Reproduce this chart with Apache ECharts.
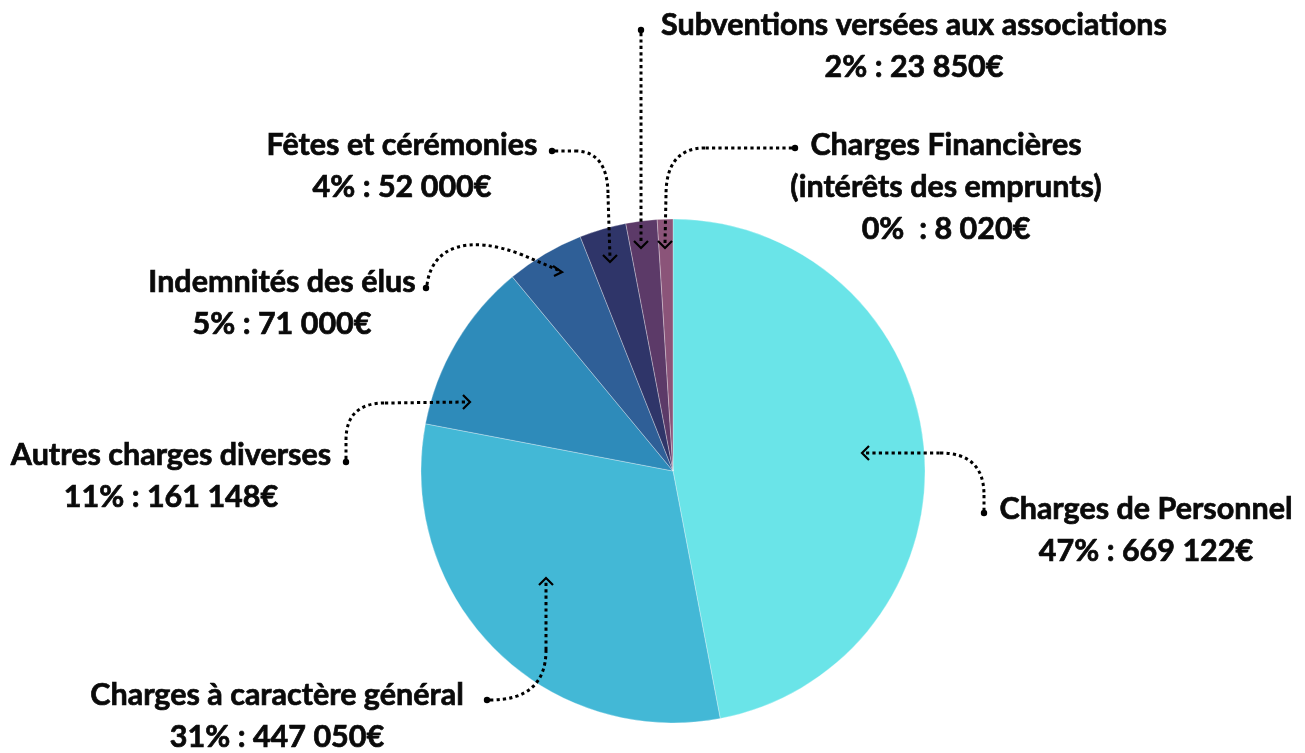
<!DOCTYPE html>
<html>
<head>
<meta charset="utf-8">
<script src="https://cdn.jsdelivr.net/npm/echarts@6/dist/echarts.min.js"></script>
<style>
html,body{margin:0;padding:0;background:#fff;}
#chart{width:1305px;height:753px;}
</style>
</head>
<body>
<div id="chart"></div>
<script>
// ---- data ----
var categories = [
  "Charges de Personnel",
  "Charges à caractère général",
  "Autres charges diverses",
  "Indemnités des élus",
  "Fêtes et cérémonies",
  "Subventions versées aux associations",
  "Charges Financières\n(intérêts des emprunts)"
];
// amounts shown in the labels (€)
var amounts = [669122, 447050, 161148, 71000, 52000, 23850, 8020];
// percentage text shown in the labels
var percentLabels = ["47%", "31%", "11%", "5%", "4%", "2%", "0% "];
// slice sizes as drawn in the picture (measured slice angles → % shares)
var sliceShares = [47, 31, 11, 5, 3, 2, 1];
var colors = ["#6ae4e8", "#43b8d6", "#2e8bba", "#2f5f97", "#2f3569", "#5c3a68", "#8b5479"];

// ---- layout (label anchor positions, px) ----
var labelPos = [
  [1146, 530], [277, 716], [171, 476], [282, 303], [402, 166], [914, 46], [946, 187]
];

// decorative dotted connectors: segments, dot end, arrow tip + direction
var connectors = [
  {seg: [["L", 866, 453, 940, 453], ["Q", 940, 453, 984, 453, 984, 495], ["L", 984, 495, 984, 510]], dot: [984, 513], tip: [862, 453], dir: "left"},
  {seg: [["Q", 490, 700, 546, 700, 546, 650], ["L", 546, 650, 546, 582]], dot: [487, 700], tip: [546, 578], dir: "up"},
  {seg: [["L", 346, 459, 346, 440], ["Q", 346, 440, 346, 403, 385, 403], ["L", 385, 403, 466, 402]], dot: [346, 462], tip: [470, 402], dir: "right"},
  {seg: [["C", 427, 285, 432, 245, 470, 235, 520, 254], ["L", 520, 254, 558, 270]], dot: [426, 288], tip: [562, 272], dir: "rightdown"},
  {seg: [["L", 555, 151, 575, 151], ["Q", 575, 151, 608, 151, 608, 195], ["L", 608, 195, 610, 258]], dot: [552, 151], tip: [610, 262], dir: "down"},
  {seg: [["L", 641, 33, 641, 244]], dot: [641, 30], tip: [641, 248], dir: "down"},
  {seg: [["L", 792, 148, 705, 148], ["Q", 705, 148, 666, 148, 666, 195], ["L", 666, 195, 665, 244]], dot: [795, 148], tip: [665, 248], dir: "down"}
];

function fmt(n) {
  return String(n).replace(/\B(?=(\d{3})+(?!\d))/g, " ");
}

var seriesData = categories.map(function (c, i) {
  return {name: c, value: sliceShares[i], itemStyle: {color: colors[i]}};
});

function arrowPoints(tip, dir) {
  var x = tip[0], y = tip[1], s = 7;
  if (dir === "left") return [[x + s, y - s], [x, y], [x + s, y + s]];
  if (dir === "right") return [[x - s, y - s], [x, y], [x - s, y + s]];
  if (dir === "up") return [[x - s, y + s], [x, y], [x + s, y + s]];
  if (dir === "down") return [[x - s, y - s], [x, y], [x + s, y - s]];
  return [[x - 9, y - 6], [x, y], [x - 8, y + 4]];
}

var dotted = {fill: null, stroke: "#000", lineWidth: 3, lineDash: [3.2, 3.2]};
var graphics = [];
connectors.forEach(function (c) {
  c.seg.forEach(function (s) {
    if (s[0] === "L") {
      graphics.push({type: "line", silent: true, z: 100,
        shape: {x1: s[1], y1: s[2], x2: s[3], y2: s[4]}, style: dotted});
    } else if (s[0] === "Q") {
      graphics.push({type: "bezierCurve", silent: true, z: 100,
        shape: {x1: s[1], y1: s[2], cpx1: s[3], cpy1: s[4], x2: s[5], y2: s[6]}, style: dotted});
    } else {
      graphics.push({type: "bezierCurve", silent: true, z: 100,
        shape: {x1: s[1], y1: s[2], cpx1: s[3], cpy1: s[4], cpx2: s[5], cpy2: s[6], x2: s[7], y2: s[8]}, style: dotted});
    }
  });
  graphics.push({type: "circle", silent: true, z: 100,
    shape: {cx: c.dot[0], cy: c.dot[1], r: 3.2},
    style: {fill: "#000"}});
  graphics.push({type: "polyline", silent: true, z: 100,
    shape: {points: arrowPoints(c.tip, c.dir)},
    style: {fill: null, stroke: "#000", lineWidth: 2.2}});
});

var chart = echarts.init(document.getElementById("chart"), null, {renderer: "canvas"});
chart.setOption({
  backgroundColor: "#ffffff",
  animation: false,
  series: [{
    type: "pie",
    center: [673, 471],
    radius: 252,
    startAngle: 90,
    clockwise: true,
    avoidLabelOverlap: false,
    itemStyle: {borderColor: "rgba(255,255,255,0.3)", borderWidth: 1},
    data: seriesData,
    label: {
      show: true,
      position: "outside",
      formatter: function (p) {
        return p.name + "\n" + percentLabels[p.dataIndex] + " : " + fmt(amounts[p.dataIndex]) + "€";
      },
      fontFamily: "Lato",
      fontWeight: "bold",
      fontSize: 30.5,
      lineHeight: 42,
      color: "#0a0a0a",
      textBorderColor: "#0a0a0a",
      textBorderWidth: 0.7,
      align: "center"
    },
    labelLine: {show: false},
    labelLayout: function (params) {
      var p = labelPos[params.dataIndex];
      return {x: p[0], y: p[1], align: "center", verticalAlign: "middle"};
    }
  }],
  graphic: graphics
});
</script>
</body>
</html>
